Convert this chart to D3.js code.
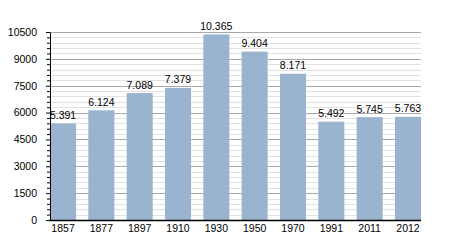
<!DOCTYPE html>
<html>
<head>
<meta charset="utf-8">
<script src="https://cdn.jsdelivr.net/npm/d3@7.9.0/dist/d3.min.js"></script>
<style>
  body { margin: 0; background: #fff; }
  text { font-family: "Liberation Sans", Arial, sans-serif; fill: #000; }
</style>
</head>
<body>
<div id="chart"></div>
<script>
const years = ['1857', '1877', '1897', '1910', '1930', '1950', '1970', '1991', '2011', '2012'];
const population = [5391, 6124, 7089, 7379, 10365, 9404, 8171, 5492, 5745, 5763];
const majorTicks = [0, 1500, 3000, 4500, 6000, 7500, 9000, 10500];

const width = 450;
const height = 250;
const margin = { top: 32, right: 29, bottom: 30, left: 50 };

const svg = d3.select('#chart')
  .append('svg')
  .attr('width', width)
  .attr('height', height);

const xScale = d3.scaleBand()
  .domain(years)
  .range([margin.left, width - margin.right])
  .paddingInner(0.32)
  .paddingOuter(0);

const yScale = d3.scaleLinear()
  .domain([0, 10500])
  .range([height - margin.bottom, margin.top]);

// minor gridlines every 300
const minorTicks = d3.range(300, 10500, 300).filter(v => v % 1500 !== 0);
svg.append('g')
  .selectAll('line')
  .data(minorTicks)
  .join('line')
  .attr('x1', margin.left)
  .attr('x2', width - margin.right)
  .attr('y1', d => Math.round(yScale(d)) + 0.5)
  .attr('y2', d => Math.round(yScale(d)) + 0.5)
  .attr('stroke', '#e2e2e2');

svg.append('g')
  .selectAll('line')
  .data(majorTicks.slice(1))
  .join('line')
  .attr('x1', margin.left)
  .attr('x2', width - margin.right)
  .attr('y1', d => Math.round(yScale(d)) + 0.5)
  .attr('y2', d => Math.round(yScale(d)) + 0.5)
  .attr('stroke', '#a8a8a8');

// bars
svg.append('g')
  .selectAll('rect')
  .data(population)
  .join('rect')
  .attr('x', (d, i) => xScale(years[i]))
  .attr('y', d => yScale(d))
  .attr('width', xScale.bandwidth())
  .attr('height', d => yScale(0) - yScale(d))
  .attr('fill', '#9ab3cf');

// value labels
svg.append('g')
  .selectAll('text')
  .data(population)
  .join('text')
  .attr('x', (d, i) => xScale(years[i]) + xScale.bandwidth() / 2)
  .attr('y', d => yScale(d) - 4.5)
  .attr('text-anchor', 'middle')
  .style('font-size', '10.5px')
  .text(d => d3.format(',')(d).replace(',', '.'));

// y axis minor ticks
svg.append('g')
  .attr('transform', `translate(${margin.left},0)`)
  .call(d3.axisLeft(yScale).tickValues(minorTicks).tickSize(3).tickFormat(''))
  .call(g => g.select('.domain').remove())
  .call(g => g.selectAll('line').attr('stroke', '#000'));

// y axis
svg.append('g')
  .attr('transform', `translate(${margin.left},0)`)
  .call(d3.axisLeft(yScale).tickValues(majorTicks).tickSize(4).tickSizeOuter(0).tickPadding(9).tickFormat(d3.format('d')))
  .call(g => g.selectAll('text').style('font-size', '10.5px').attr('font-family', null))
  .call(g => g.selectAll('line, .domain').attr('stroke', '#000'));

// x axis
svg.append('g')
  .attr('transform', `translate(0,${yScale(0)})`)
  .call(d3.axisBottom(xScale).tickSize(0).tickPadding(5))
  .call(g => g.select('.domain').attr('d', `M${margin.left - 1},0.5H${width - margin.right}`).attr('stroke', '#000').attr('stroke-width', 1.5))
  .call(g => g.selectAll('text').style('font-size', '10.5px').attr('font-family', null));
</script>
</body>
</html>
